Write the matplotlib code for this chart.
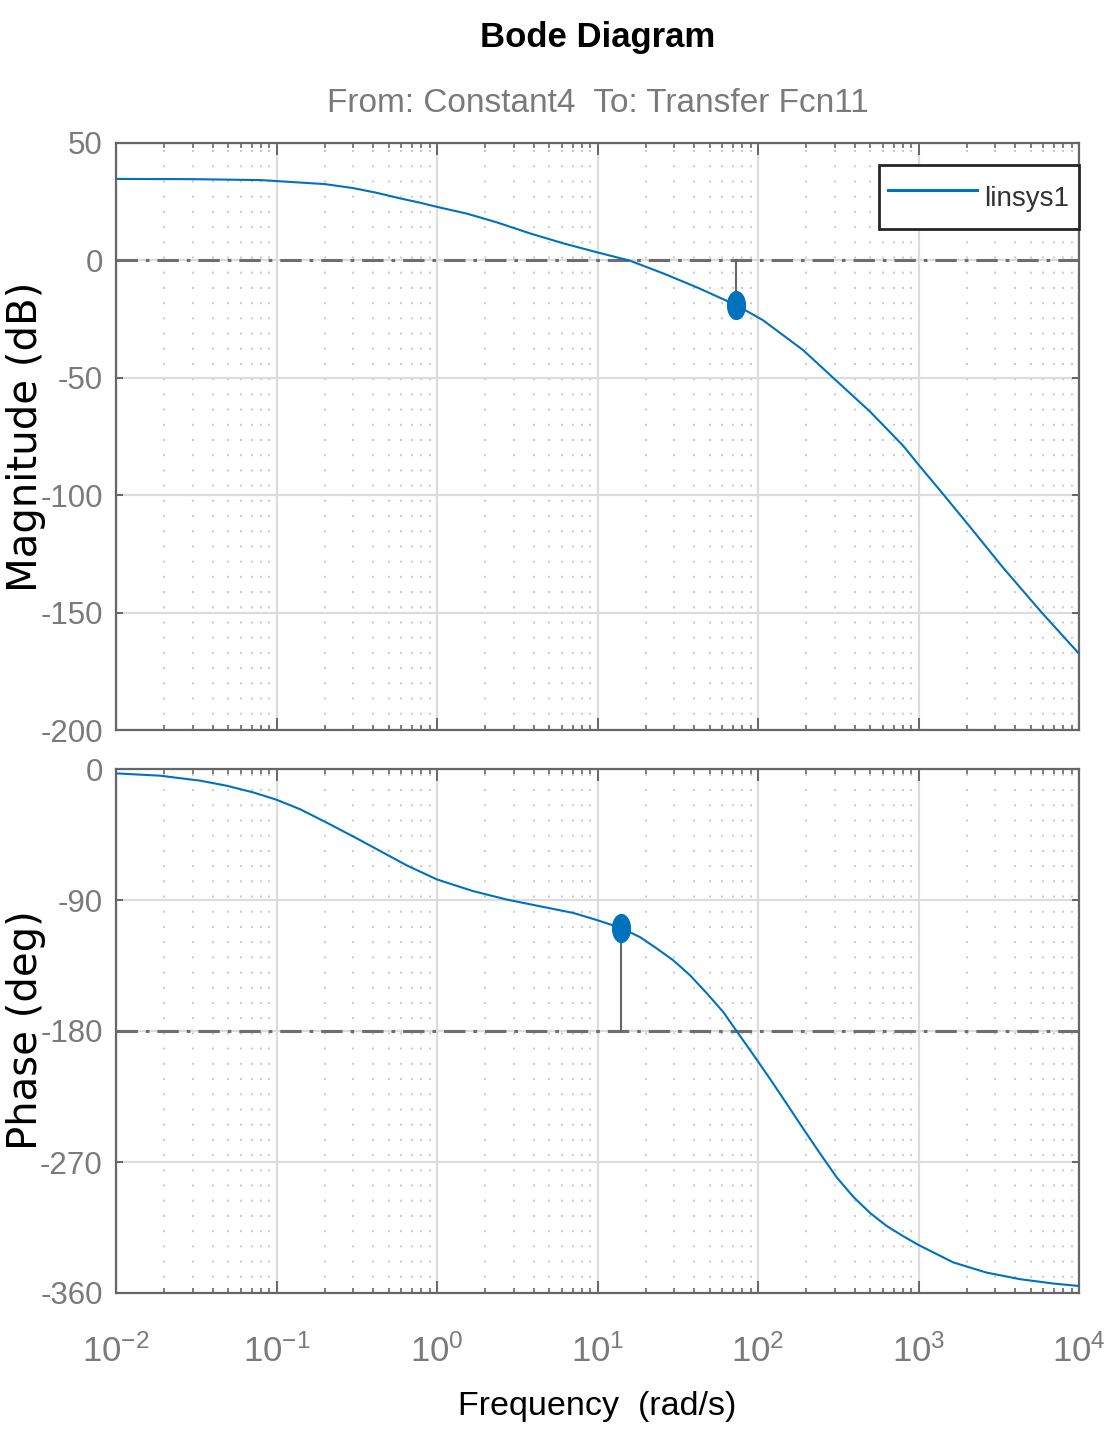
import numpy as np
import matplotlib
matplotlib.use('Agg')
import matplotlib.pyplot as plt
from matplotlib.path import Path
from matplotlib.ticker import LogLocator, NullFormatter, FixedLocator

plt.rcParams['font.family'] = ['Liberation Sans', 'DejaVu Sans']
plt.rcParams['axes.unicode_minus'] = False
plt.rcParams['mathtext.default'] = 'regular'

# ---------------- data ----------------
title_text = 'Bode Diagram'
subtitle_text = 'From: Constant4  To: Transfer Fcn11'
series_name = 'linsys1'
xlabel_text = 'Frequency  (rad/s)'
mag_label = 'Magnitude (dB)'
phase_label = 'Phase (deg)'

mag_freq = [0.01, 0.03, 0.08, 0.2, 0.3, 0.42, 0.59, 0.78, 1.0, 1.54, 2.36, 3.8,
            6.1, 10, 15.9, 25.6, 41.7, 72.9, 107, 191, 294, 499, 804, 1000,
            1422, 2094, 3377, 5861, 10000]
mag_db = [34.7, 34.6, 34.2, 32.5, 30.8, 28.8, 26.4, 24.6, 22.8, 19.9, 16.2, 11.5,
          7.3, 3.4, -0.1, -5.5, -11.5, -19.0, -25.4, -38.2, -50.0, -64.4, -79.0, -87.0,
          -99.5, -113.5, -131.0, -150.0, -167.5]

phase_freq = [0.01, 0.0188, 0.0334, 0.049, 0.0717, 0.1, 0.14, 0.205, 0.301, 0.442,
              0.647, 1.0, 1.68, 2.72, 4.38, 7.07, 10, 14.0, 18.4, 23.4, 29.7, 37.7,
              47.9, 60.8, 71.9, 98, 119, 151, 191, 243, 309, 393, 499, 634, 804, 1000,
              1648, 2660, 4288, 6918, 10000]
phase_deg = [-3.0, -4.6, -8.0, -11.5, -16.1, -21.1, -27.6, -36.8, -46.4, -56.3,
             -66.2, -75.9, -83.9, -89.7, -94.3, -98.9, -103.9, -109.2, -115.5, -123.3,
             -131.5, -141.7, -154.0, -167.0, -178.5, -199.5, -213.0, -230.0, -247.0,
             -264.0, -280.5, -294.0, -305.0, -314.0, -321.0, -327.0, -339.0, -346.0,
             -350.5, -353.5, -355.2]

gm_freq, gm_db = 72.9, -19.0      # gain-margin marker
pm_freq, pm_deg = 14.0, -109.2    # phase-margin marker
mag_ref, phase_ref = 0, -180

mag_ticks = [-200, -150, -100, -50, 0, 50]
phase_ticks = [-360, -270, -180, -90, 0]
freq_ticks = [1e-2, 1e-1, 1e0, 1e1, 1e2, 1e3, 1e4]
freq_labels = [r'$\mathregular{10^{-2}}$', r'$\mathregular{10^{-1}}$', r'$\mathregular{10^{0}}$',
               r'$\mathregular{10^{1}}$', r'$\mathregular{10^{2}}$', r'$\mathregular{10^{3}}$',
               r'$\mathregular{10^{4}}$']

# ---------------- style ----------------
BLUE = '#0072BD'
SPINE = '#666666'
TICKLAB = '#7a7a7a'
GRID = '#dcdcdc'
MINGRID = '#cdcdcd'
REF = '#6e6e6e'

W, H = 1107, 1432
fig = plt.figure(figsize=(W / 100, H / 100), dpi=100)
ax1 = fig.add_axes([116 / W, 1 - 730 / H, 963 / W, 587 / H])
ax2 = fig.add_axes([116 / W, 1 - 1293 / H, 963 / W, 524 / H])

theta = np.linspace(0, 2 * np.pi, 60)
ellipse = Path(np.column_stack([0.64 * np.cos(theta), np.sin(theta)]), closed=True)


def style(ax, yticks, ylim, show_x):
    ax.set_xscale('log')
    ax.set_xlim(freq_ticks[0], freq_ticks[-1])
    ax.set_ylim(*ylim)
    ax.xaxis.set_major_locator(FixedLocator(freq_ticks))
    ax.xaxis.set_minor_locator(LogLocator(base=10, subs=np.arange(2, 10), numticks=50))
    ax.xaxis.set_minor_formatter(NullFormatter())
    if show_x:
        ax.set_xticklabels(freq_labels)
    ax.set_yticks(yticks)
    ax.set_yticklabels([str(t) for t in yticks])
    ax.set_axisbelow(True)
    ax.grid(which='major', color=GRID, lw=1.6, ls='-')
    ax.grid(which='minor', axis='x', color=MINGRID, lw=1.5, ls=(0, (1, 6.3)))
    for s in ax.spines.values():
        s.set_color(SPINE)
        s.set_linewidth(1.6)
    ax.tick_params(which='both', direction='in', top=True, right=True, color=SPINE,
                   labelcolor=TICKLAB)
    ax.tick_params(axis='x', which='major', length=8.6, width=1.4, pad=30,
                   labelsize=25, labelbottom=show_x)
    ax.tick_params(axis='x', which='minor', length=3.6, width=1.2)
    ax.tick_params(axis='y', which='major', length=5, width=1.4, pad=9.5, labelsize=22.5)


style(ax1, mag_ticks, (-200, 50), False)
style(ax2, phase_ticks, (-360, 0), True)

# magnitude
ax1.axhline(mag_ref, color=REF, lw=2.2, ls=(0, (7, 2.6, 1.2, 2.6)), zorder=2)
ax1.plot(mag_freq, mag_db, color=BLUE, lw=1.5, label=series_name, zorder=3)
ax1.plot([gm_freq, gm_freq], [mag_ref, gm_db], color=SPINE, lw=1.5, zorder=4)
ax1.plot([gm_freq], [gm_db], ls='none', marker=ellipse, ms=20, color=BLUE, zorder=5)

# phase
ax2.axhline(phase_ref, color=REF, lw=2.2, ls=(0, (7, 2.6, 1.2, 2.6)), zorder=2)
ax2.plot(phase_freq, phase_deg, color=BLUE, lw=1.5, zorder=3)
ax2.plot([pm_freq, pm_freq], [phase_ref, pm_deg], color=SPINE, lw=1.5, zorder=4)
ax2.plot([pm_freq], [pm_deg], ls='none', marker=ellipse, ms=20, color=BLUE, zorder=5)

leg = ax1.legend(loc='upper right', bbox_to_anchor=(1.0, 1 - 22 / 587), borderaxespad=0,
                 fancybox=False, edgecolor='#262626', framealpha=1, fontsize=20,
                 handlelength=3.2, handleheight=2.1, handletextpad=0.25, borderpad=0.35)
leg.get_frame().set_linewidth(2.0)
leg.get_lines()[0].set_linewidth(2.2)
leg.get_texts()[0].set_color('#333333')

# texts
cx = (116 + 1079) / 2 / W
fig.text(cx, 1 - 38 / H, title_text, ha='center', va='center', fontsize=25,
         fontweight='bold', color='black')
fig.text(cx, 1 - 103 / H, subtitle_text, ha='center', va='center', fontsize=24,
         color=TICKLAB)
fig.text(cx, 1 - 1406 / H, xlabel_text, ha='center', va='center', fontsize=24.5,
         color='black')
fig.text(26 / W, 1 - 437 / H, mag_label, rotation=90, ha='center', va='center',
         fontsize=29, family=['DejaVu Sans'], color='black')
fig.text(26 / W, 1 - 1030 / H, phase_label, rotation=90, ha='center', va='center',
         fontsize=29, family=['DejaVu Sans'], color='black')

fig.savefig('out.png', dpi=100)
